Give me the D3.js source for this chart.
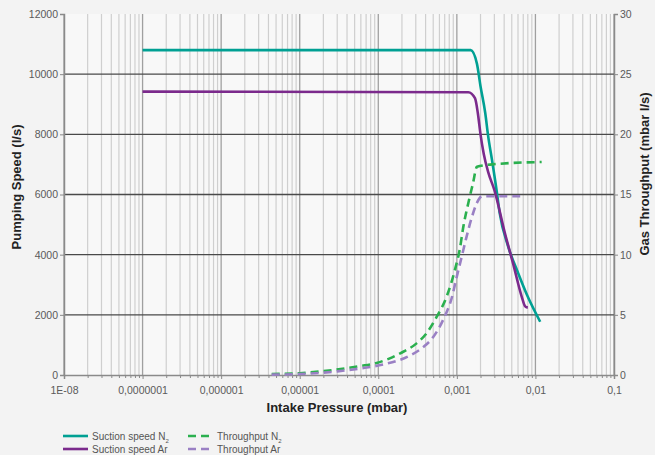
<!DOCTYPE html>
<html>
<head>
<meta charset="utf-8">
<script src="https://cdn.jsdelivr.net/npm/d3@7"></script>
<style>
  body { margin: 0; background: #f3f3f3; }
  svg { display: block; font-family: "Liberation Sans", Arial, sans-serif; }
</style>
</head>
<body>
<svg></svg>
<script>
const w = 655;
const h = 455;
const margin = { left: 64, right: 41, top: 14, bottom: 80 };

// x tick values and labels
const xTicks = [1e-8, 1e-7, 1e-6, 1e-5, 1e-4, 1e-3, 1e-2, 1e-1];
const xTickLabels = ['1E-08', '0,0000001', '0,000001', '0,00001', '0,0001', '0,001', '0,01', '0,1'];
const yLeftTicks = [0, 2000, 4000, 6000, 8000, 10000, 12000];
const yRightTicks = [0, 5, 10, 15, 20, 25, 30];

// Suction speed N2 (l/s)
const n2SpeedP = [1e-7, 0.0015, 0.0018, 0.002, 0.0023, 0.0025, 0.0028, 0.0032, 0.0035, 0.0045, 0.006, 0.008, 0.0115];
const n2SpeedV = [10800, 10800, 10350, 9600, 8700, 7950, 7150, 6150, 5400, 4270, 3400, 2600, 1770];

// Suction speed Ar (l/s)
const arSpeedP = [1e-7, 0.0014, 0.0017, 0.00185, 0.002, 0.0022, 0.0025, 0.003, 0.0041, 0.0052, 0.0067, 0.0074, 0.008];
const arSpeedV = [9420, 9400, 9200, 8700, 8000, 7350, 6750, 6150, 4700, 3700, 2600, 2280, 2240];

// Throughput N2 (mbar l/s)
const n2ThruP = [4.4e-6, 1e-5, 2.7e-5, 6e-5, 9.5e-5, 1.4e-4, 1.9e-4, 3.1e-4, 4.1e-4, 5.5e-4, 7.4e-4, 9.5e-4, 1.1e-3, 1.2e-3, 1.4e-3, 1.6e-3, 1.8e-3, 2.8e-3, 0.012];
const n2ThruV = [0.08, 0.15, 0.42, 0.75, 1.0, 1.38, 1.8, 2.65, 3.45, 4.8, 6.5, 8.8, 10.6, 12.2, 14.3, 15.9, 17.3, 17.5, 17.7];

// Throughput Ar (mbar l/s)
const arThruP = [4.4e-6, 1e-5, 3e-5, 6e-5, 1.2e-4, 2.5e-4, 3.7e-4, 5e-4, 6.7e-4, 8.6e-4, 1e-3, 1.15e-3, 1.33e-3, 1.55e-3, 1.8e-3, 2.1e-3, 6.4e-3];
const arThruV = [0.03, 0.08, 0.3, 0.55, 0.9, 1.6, 2.3, 3.15, 4.6, 6.4, 8.2, 9.8, 11.5, 13.1, 14.3, 14.85, 14.85];

const series = [
	{ name: 'Suction speed N', sub: '2', p: n2SpeedP, v: n2SpeedV, axis: 'left', color: '#00a093', dash: null },
	{ name: 'Suction speed Ar', sub: '', p: arSpeedP, v: arSpeedV, axis: 'left', color: '#7b2a8c', dash: null },
	{ name: 'Throughput N', sub: '2', p: n2ThruP, v: n2ThruV, axis: 'right', color: '#2bb04f', dash: '8,5' },
	{ name: 'Throughput Ar', sub: '', p: arThruP, v: arThruV, axis: 'right', color: '#9a80c4', dash: '8,5' },
];

const svg = d3.select('svg').attr('width', w).attr('height', h);

const xScale = d3.scaleLog().domain([1e-8, 0.1]).range([margin.left, w - margin.right]);
const yLeft = d3.scaleLinear().domain([0, 12000]).range([h - margin.bottom, margin.top]);
const yRight = d3.scaleLinear().domain([0, 30]).range([h - margin.bottom, margin.top]);

// background of plot
svg.append('rect')
	.attr('x', margin.left).attr('y', margin.top)
	.attr('width', w - margin.left - margin.right)
	.attr('height', h - margin.top - margin.bottom)
	.attr('fill', '#f8f8f8');

// vertical grid: minor and major
const minor = [];
for (let e = -8; e < -1; e++) {
	for (let k = 2; k <= 9; k++) minor.push(k * Math.pow(10, e));
}
svg.append('g').selectAll('line').data(minor).enter().append('line')
	.attr('x1', (d) => xScale(d)).attr('x2', (d) => xScale(d))
	.attr('y1', yLeft(0)).attr('y2', yLeft(12000))
	.attr('stroke', '#cfcfcf').attr('stroke-width', 1.2);
svg.append('g').selectAll('line').data(xTicks).enter().append('line')
	.attr('x1', (d) => xScale(d)).attr('x2', (d) => xScale(d))
	.attr('y1', yLeft(0)).attr('y2', yLeft(12000))
	.attr('stroke', '#a0a0a0').attr('stroke-width', 1.3);

// horizontal grid
svg.append('g').selectAll('line').data(yLeftTicks.slice(1, -1)).enter().append('line')
	.attr('x1', margin.left).attr('x2', w - margin.right)
	.attr('y1', (d) => yLeft(d)).attr('y2', (d) => yLeft(d))
	.attr('stroke', '#4a4a4a').attr('stroke-width', 1.3);

// axes
const xAxis = d3.axisBottom(xScale).tickValues(xTicks).tickSize(4)
	.tickFormat((d, i) => xTickLabels[i]);
const xMinorAxis = d3.axisBottom(xScale).tickValues(minor).tickSize(3).tickFormat('');
const yAxisL = d3.axisLeft(yLeft).tickValues(yLeftTicks).tickSize(4).tickFormat(d3.format('d'));
const yAxisR = d3.axisRight(yRight).tickValues(yRightTicks).tickSize(4).tickFormat(d3.format('d'));

const gx = svg.append('g').attr('transform', `translate(0,${h - margin.bottom})`).call(xAxis);
const gxm = svg.append('g').attr('transform', `translate(0,${h - margin.bottom})`).call(xMinorAxis);
const gyl = svg.append('g').attr('transform', `translate(${margin.left},0)`).call(yAxisL);
const gyr = svg.append('g').attr('transform', `translate(${w - margin.right},0)`).call(yAxisR);

[gx, gxm, gyl, gyr].forEach((g) => {
	g.select('.domain').attr('stroke', '#8a8a8a').attr('stroke-width', 1.5);
	g.selectAll('.tick line').attr('stroke', '#8a8a8a');
	g.selectAll('.tick text').attr('fill', '#5a5a5a').attr('font-size', 10.5)
		.attr('font-family', '"Liberation Sans", Arial, sans-serif');
});
gxm.select('.domain').remove();
gx.selectAll('.tick text').attr('dy', '1.15em');
gyl.selectAll('.tick text').attr('x', -6);
gyr.selectAll('.tick text').attr('x', 6);

// data lines
const line = (s) => {
	const y = s.axis === 'left' ? yLeft : yRight;
	return d3.line()
		.x((d) => xScale(d[0]))
		.y((d) => y(d[1]))
		.curve(d3.curveMonotoneX)(s.p.map((p, i) => [p, s.v[i]]));
};
svg.append('g').selectAll('path').data(series).enter().append('path')
	.attr('d', (s) => line(s))
	.attr('fill', 'none')
	.attr('stroke', (s) => s.color)
	.attr('stroke-width', 2.6)
	.attr('stroke-dasharray', (s) => s.dash);

// axis titles
svg.append('text')
	.attr('transform', 'translate(21,187) rotate(-90)')
	.attr('text-anchor', 'middle').attr('font-weight', 'bold').attr('font-size', 13)
	.attr('fill', '#222').text('Pumping Speed (l/s)');
svg.append('text')
	.attr('transform', 'translate(649,174) rotate(-90)')
	.attr('text-anchor', 'middle').attr('font-weight', 'bold').attr('font-size', 13)
	.attr('fill', '#222').text('Gas Throughput (mbar l/s)');
svg.append('text')
	.attr('x', 337).attr('y', 412)
	.attr('text-anchor', 'middle').attr('font-weight', 'bold').attr('font-size', 13)
	.attr('fill', '#222').text('Intake Pressure (mbar)');

// legend
const legendPos = [[63, 436], [63, 449], [188, 436], [188, 449]];
const legend = svg.append('g').selectAll('g').data(series).enter().append('g')
	.attr('transform', (s, i) => `translate(${legendPos[i][0]},${legendPos[i][1]})`);
legend.append('line')
	.attr('x1', 0).attr('x2', 25).attr('y1', 0).attr('y2', 0)
	.attr('stroke', (s) => s.color).attr('stroke-width', 2.6)
	.attr('stroke-dasharray', (s) => (s.dash ? '8,5' : null));
const lt = legend.append('text')
	.attr('x', 29).attr('y', 3.5).attr('font-size', 10).attr('fill', '#555');
lt.append('tspan').text((s) => s.name);
lt.append('tspan').attr('font-size', 6).attr('dy', 3).text((s) => s.sub);
</script>
</body>
</html>
